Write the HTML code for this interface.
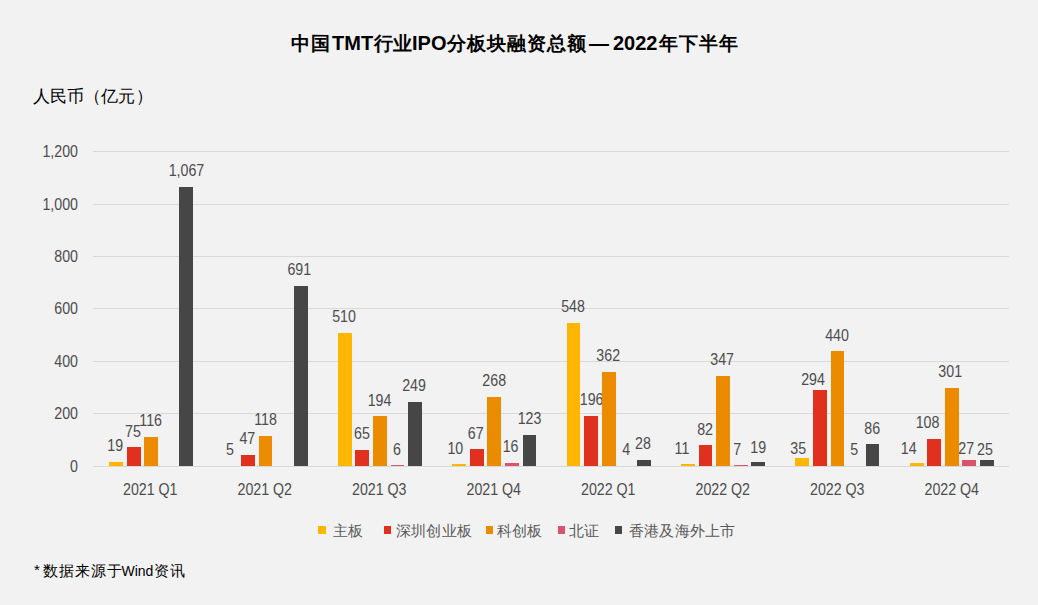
<!DOCTYPE html>
<html><head><meta charset="utf-8"><style>
html,body{margin:0;padding:0;background:#F2F2F2;}
body{width:1038px;height:605px;overflow:hidden;position:relative;font-family:"Liberation Sans", sans-serif;}
svg text{font-family:"Liberation Sans", sans-serif;}
</style></head><body>
<svg width="1038" height="605" viewBox="0 0 1038 605" style="position:absolute;left:0;top:0" shape-rendering="crispEdges">
<rect x="0" y="0" width="1038" height="605" fill="#F2F2F2"/>

<text x="291" y="50" font-size="19" fill="#000" font-weight="bold" letter-spacing="0.5">中国</text>
<text x="332" y="50" font-size="20" fill="#000" font-weight="bold" letter-spacing="0">TMT</text>
<text x="373.5" y="50" font-size="19" fill="#000" font-weight="bold" letter-spacing="0.5">行业</text>
<text x="412" y="50" font-size="20" fill="#000" font-weight="bold" letter-spacing="0">IPO</text>
<text x="447" y="50" font-size="19" fill="#000" font-weight="bold" letter-spacing="1">分板块融资总额</text>
<text x="589" y="50" font-size="20" fill="#000" font-weight="bold" letter-spacing="0">—</text>
<text x="613" y="50" font-size="20" fill="#000" font-weight="bold" letter-spacing="0">2022</text>
<text x="658.5" y="50" font-size="19" fill="#000" font-weight="bold" letter-spacing="1">年下半年</text>
<text x="32.5" y="101.5" font-size="17" fill="#000" letter-spacing="0.2">人民币（亿元）</text>
<rect x="93" y="466" width="916" height="1" fill="#D9D9D9"/>
<text transform="translate(78,472) scale(0.89,1)" font-size="16" fill="#4d4d4d" text-anchor="end">0</text>
<rect x="93" y="413" width="916" height="1" fill="#D9D9D9"/>
<text transform="translate(78,419) scale(0.89,1)" font-size="16" fill="#4d4d4d" text-anchor="end">200</text>
<rect x="93" y="361" width="916" height="1" fill="#D9D9D9"/>
<text transform="translate(78,367) scale(0.89,1)" font-size="16" fill="#4d4d4d" text-anchor="end">400</text>
<rect x="93" y="308" width="916" height="1" fill="#D9D9D9"/>
<text transform="translate(78,314) scale(0.89,1)" font-size="16" fill="#4d4d4d" text-anchor="end">600</text>
<rect x="93" y="256" width="916" height="1" fill="#D9D9D9"/>
<text transform="translate(78,262) scale(0.89,1)" font-size="16" fill="#4d4d4d" text-anchor="end">800</text>
<rect x="93" y="204" width="916" height="1" fill="#D9D9D9"/>
<text transform="translate(78,210) scale(0.89,1)" font-size="16" fill="#4d4d4d" text-anchor="end">1,000</text>
<rect x="93" y="151" width="916" height="1" fill="#D9D9D9"/>
<text transform="translate(78,157) scale(0.89,1)" font-size="16" fill="#4d4d4d" text-anchor="end">1,200</text>
<rect x="109" y="462" width="14" height="4" fill="#FFB600"/>
<text transform="translate(115.25,451) scale(0.89,1)" font-size="16" fill="#4d4d4d" text-anchor="middle">19</text>
<rect x="127" y="447" width="14" height="19" fill="#E0301E"/>
<text transform="translate(133,437) scale(0.89,1)" font-size="16" fill="#4d4d4d" text-anchor="middle">75</text>
<rect x="144" y="437" width="14" height="29" fill="#EB8C00"/>
<text transform="translate(150.7,426) scale(0.89,1)" font-size="16" fill="#4d4d4d" text-anchor="middle">116</text>
<rect x="179" y="187" width="14" height="279" fill="#464646"/>
<text transform="translate(186.45,176) scale(0.89,1)" font-size="16" fill="#4d4d4d" text-anchor="middle">1,067</text>
<text transform="translate(150.25,495) scale(0.89,1)" font-size="16" fill="#4d4d4d" text-anchor="middle">2021 Q1</text>
<text transform="translate(229.9,455) scale(0.89,1)" font-size="16" fill="#4d4d4d" text-anchor="middle">5</text>
<rect x="241" y="455" width="14" height="11" fill="#E0301E"/>
<text transform="translate(247.3,444) scale(0.89,1)" font-size="16" fill="#4d4d4d" text-anchor="middle">47</text>
<rect x="259" y="436" width="13" height="30" fill="#EB8C00"/>
<text transform="translate(265.6,425) scale(0.89,1)" font-size="16" fill="#4d4d4d" text-anchor="middle">118</text>
<rect x="294" y="286" width="14" height="180" fill="#464646"/>
<text transform="translate(299.3,275) scale(0.89,1)" font-size="16" fill="#4d4d4d" text-anchor="middle">691</text>
<text transform="translate(264.75,495) scale(0.89,1)" font-size="16" fill="#4d4d4d" text-anchor="middle">2021 Q2</text>
<rect x="338" y="333" width="14" height="133" fill="#FFB600"/>
<text transform="translate(344,322) scale(0.89,1)" font-size="16" fill="#4d4d4d" text-anchor="middle">510</text>
<rect x="355" y="450" width="14" height="16" fill="#E0301E"/>
<text transform="translate(362,439) scale(0.89,1)" font-size="16" fill="#4d4d4d" text-anchor="middle">65</text>
<rect x="373" y="416" width="14" height="50" fill="#EB8C00"/>
<text transform="translate(379.5,406) scale(0.89,1)" font-size="16" fill="#4d4d4d" text-anchor="middle">194</text>
<rect x="391" y="465" width="13" height="1" fill="#DB536A"/>
<text transform="translate(397,455) scale(0.89,1)" font-size="16" fill="#4d4d4d" text-anchor="middle">6</text>
<rect x="408" y="402" width="14" height="64" fill="#464646"/>
<text transform="translate(414,391) scale(0.89,1)" font-size="16" fill="#4d4d4d" text-anchor="middle">249</text>
<text transform="translate(379.25,495) scale(0.89,1)" font-size="16" fill="#4d4d4d" text-anchor="middle">2021 Q3</text>
<rect x="452" y="464" width="14" height="2" fill="#FFB600"/>
<text transform="translate(455.3,454) scale(0.89,1)" font-size="16" fill="#4d4d4d" text-anchor="middle">10</text>
<rect x="470" y="449" width="14" height="17" fill="#E0301E"/>
<text transform="translate(475.7,439) scale(0.89,1)" font-size="16" fill="#4d4d4d" text-anchor="middle">67</text>
<rect x="487" y="397" width="14" height="69" fill="#EB8C00"/>
<text transform="translate(494.2,386) scale(0.89,1)" font-size="16" fill="#4d4d4d" text-anchor="middle">268</text>
<rect x="505" y="463" width="14" height="3" fill="#DB536A"/>
<text transform="translate(510.6,452) scale(0.89,1)" font-size="16" fill="#4d4d4d" text-anchor="middle">16</text>
<rect x="523" y="435" width="13" height="31" fill="#464646"/>
<text transform="translate(529.5,424) scale(0.89,1)" font-size="16" fill="#4d4d4d" text-anchor="middle">123</text>
<text transform="translate(493.75,495) scale(0.89,1)" font-size="16" fill="#4d4d4d" text-anchor="middle">2021 Q4</text>
<rect x="567" y="323" width="13" height="143" fill="#FFB600"/>
<text transform="translate(573,312) scale(0.89,1)" font-size="16" fill="#4d4d4d" text-anchor="middle">548</text>
<rect x="584" y="416" width="14" height="50" fill="#E0301E"/>
<text transform="translate(591.6,405) scale(0.89,1)" font-size="16" fill="#4d4d4d" text-anchor="middle">196</text>
<rect x="602" y="372" width="14" height="94" fill="#EB8C00"/>
<text transform="translate(608.2,361) scale(0.89,1)" font-size="16" fill="#4d4d4d" text-anchor="middle">362</text>
<text transform="translate(626.1,455) scale(0.89,1)" font-size="16" fill="#4d4d4d" text-anchor="middle">4</text>
<rect x="637" y="460" width="14" height="6" fill="#464646"/>
<text transform="translate(643,449) scale(0.89,1)" font-size="16" fill="#4d4d4d" text-anchor="middle">28</text>
<text transform="translate(608.25,495) scale(0.89,1)" font-size="16" fill="#4d4d4d" text-anchor="middle">2022 Q1</text>
<rect x="681" y="464" width="14" height="2" fill="#FFB600"/>
<text transform="translate(681.9,454) scale(0.89,1)" font-size="16" fill="#4d4d4d" text-anchor="middle">11</text>
<rect x="699" y="445" width="13" height="21" fill="#E0301E"/>
<text transform="translate(705.1,435) scale(0.89,1)" font-size="16" fill="#4d4d4d" text-anchor="middle">82</text>
<rect x="716" y="376" width="14" height="90" fill="#EB8C00"/>
<text transform="translate(722.1,365) scale(0.89,1)" font-size="16" fill="#4d4d4d" text-anchor="middle">347</text>
<rect x="734" y="465" width="14" height="1" fill="#DB536A"/>
<text transform="translate(737.1,455) scale(0.89,1)" font-size="16" fill="#4d4d4d" text-anchor="middle">7</text>
<rect x="751" y="462" width="14" height="4" fill="#464646"/>
<text transform="translate(758.2,453) scale(0.89,1)" font-size="16" fill="#4d4d4d" text-anchor="middle">19</text>
<text transform="translate(722.75,495) scale(0.89,1)" font-size="16" fill="#4d4d4d" text-anchor="middle">2022 Q2</text>
<rect x="795" y="458" width="14" height="8" fill="#FFB600"/>
<text transform="translate(798.2,454) scale(0.89,1)" font-size="16" fill="#4d4d4d" text-anchor="middle">35</text>
<rect x="813" y="390" width="14" height="76" fill="#E0301E"/>
<text transform="translate(813,384.5) scale(0.89,1)" font-size="16" fill="#4d4d4d" text-anchor="middle">294</text>
<rect x="831" y="351" width="13" height="115" fill="#EB8C00"/>
<text transform="translate(837,341) scale(0.89,1)" font-size="16" fill="#4d4d4d" text-anchor="middle">440</text>
<text transform="translate(854.2,455) scale(0.89,1)" font-size="16" fill="#4d4d4d" text-anchor="middle">5</text>
<rect x="866" y="444" width="13" height="22" fill="#464646"/>
<text transform="translate(872.2,434) scale(0.89,1)" font-size="16" fill="#4d4d4d" text-anchor="middle">86</text>
<text transform="translate(837.25,495) scale(0.89,1)" font-size="16" fill="#4d4d4d" text-anchor="middle">2022 Q3</text>
<rect x="910" y="463" width="14" height="3" fill="#FFB600"/>
<text transform="translate(908.7,454) scale(0.89,1)" font-size="16" fill="#4d4d4d" text-anchor="middle">14</text>
<rect x="927" y="439" width="14" height="27" fill="#E0301E"/>
<text transform="translate(927.5,428) scale(0.89,1)" font-size="16" fill="#4d4d4d" text-anchor="middle">108</text>
<rect x="945" y="388" width="14" height="78" fill="#EB8C00"/>
<text transform="translate(950.2,377) scale(0.89,1)" font-size="16" fill="#4d4d4d" text-anchor="middle">301</text>
<rect x="962" y="460" width="14" height="6" fill="#DB536A"/>
<text transform="translate(966.2,454) scale(0.89,1)" font-size="16" fill="#4d4d4d" text-anchor="middle">27</text>
<rect x="980" y="460" width="14" height="6" fill="#464646"/>
<text transform="translate(984.9,455) scale(0.89,1)" font-size="16" fill="#4d4d4d" text-anchor="middle">25</text>
<text transform="translate(951.75,495) scale(0.89,1)" font-size="16" fill="#4d4d4d" text-anchor="middle">2022 Q4</text>
<rect x="318" y="526" width="8" height="8" fill="#FFB600"/>
<text x="333" y="536" font-size="15" fill="#595959" letter-spacing="0.2">主板</text>
<rect x="384" y="526" width="7" height="8" fill="#E0301E"/>
<text x="396" y="536" font-size="15" fill="#595959" letter-spacing="0.2">深圳创业板</text>
<rect x="486" y="526" width="7" height="8" fill="#EB8C00"/>
<text x="497" y="536" font-size="15" fill="#595959" letter-spacing="0.2">科创板</text>
<rect x="558" y="526" width="7" height="8" fill="#DB536A"/>
<text x="569" y="536" font-size="15" fill="#595959" letter-spacing="0.2">北证</text>
<rect x="615" y="526" width="7" height="8" fill="#464646"/>
<text x="629" y="536" font-size="15" fill="#595959" letter-spacing="0.2">香港及海外上市</text>
<text x="34" y="574.5" font-size="15" fill="#000" >*</text>
<text x="43" y="576" font-size="15" fill="#000" letter-spacing="1">数据来源于</text>
<text x="121.5" y="576" font-size="14" fill="#000" >Wind</text>
<text x="153.5" y="576" font-size="15" fill="#000" letter-spacing="1.5">资讯</text>
</svg></body></html>
